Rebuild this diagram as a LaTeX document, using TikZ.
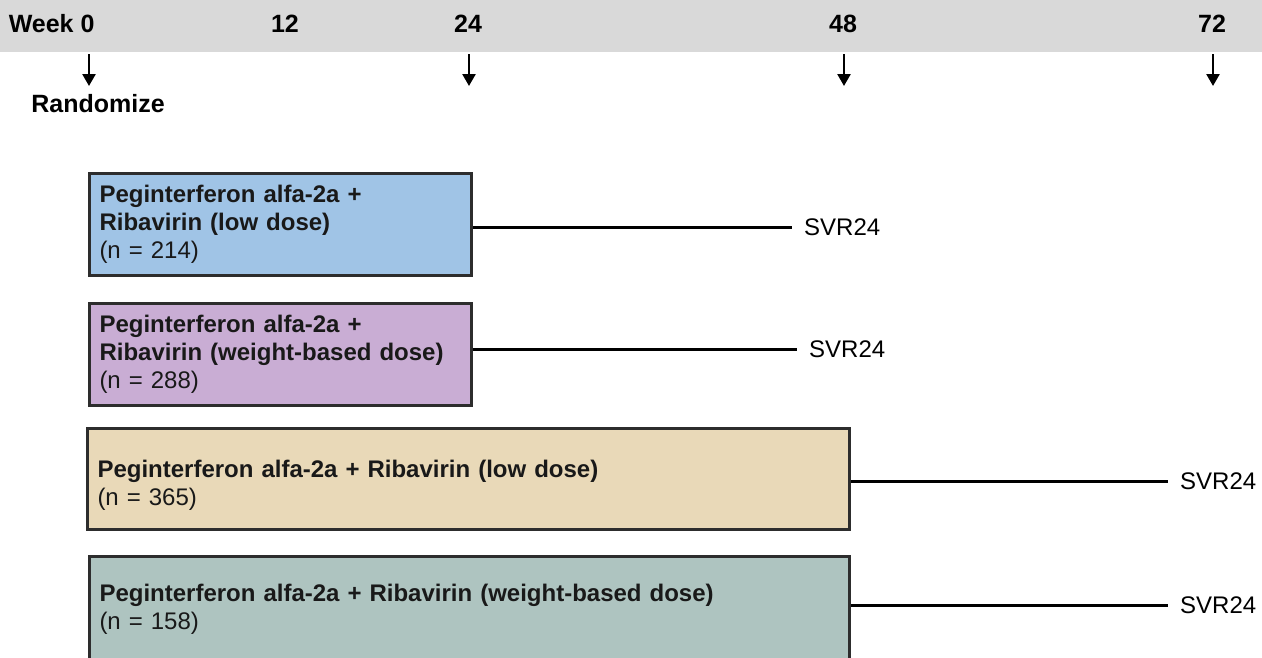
\documentclass[tikz,border=0pt]{standalone}
\usepackage{fontspec}
\setmainfont{Liberation Sans}
\usetikzlibrary{arrows.meta}

\definecolor{bandgray}{RGB}{217,217,217}
\definecolor{boxline}{RGB}{45,45,45}
\definecolor{armblue}{RGB}{160,196,230}
\definecolor{armpurple}{RGB}{201,173,212}
\definecolor{armtan}{RGB}{233,217,184}
\definecolor{armsage}{RGB}{174,196,192}

\tikzset{
  arm/.style={draw=boxline, line width=3pt, anchor=north west,
    text width=#1, align=left, inner xsep=10pt, minimum height=102pt,
    font=\fontsize{24}{28}\selectfont, text=black!90},
  tick/.style={line width=2.5pt, -{Triangle[length=12pt,width=13pt]}},
  follow/.style={line width=3pt},
  svr/.style={anchor=west, inner xsep=12pt, font=\fontsize{24}{28}\selectfont},
  week/.style={font=\bfseries\fontsize{25}{30}\selectfont}
}

\begin{document}
\begin{tikzpicture}[x=1pt,y=-1pt]
  \clip (0,0) rectangle (1262,657);

  % week band
  \fill[bandgray] (0,0) rectangle (1262,52);
  \node[week, anchor=base east] (wk0) at (98,32) {Week 0};
  \node[week, anchor=base] (wk12) at (285,32) {12};
  \node[week, anchor=base] (wk24) at (468,32) {24};
  \node[week, anchor=base] (wk48) at (843,32) {48};
  \node[week, anchor=base] (wk72) at (1212,32) {72};

  \foreach \n/\x in {0/89, 24/469, 48/844, 72/1213} {
    \coordinate (top\n) at (\x,54);
    \coordinate (tip\n) at (\x,86);
    \draw[tick] (top\n) -- (tip\n);
  }
  \node[week, anchor=base] (rand) at (98,112) {Randomize};

  % treatment arms
  \node[arm=362pt, fill=armblue] (arm1) at (88,172)
    {\textbf{Peginterferon alfa-2a +}\\\textbf{Ribavirin (low dose)}\\(n = 214)};
  \node[arm=362pt, fill=armpurple] (arm2) at (88,302)
    {\textbf{Peginterferon alfa-2a +}\\\textbf{Ribavirin (weight-based dose)}\\(n = 288)};
  \node[arm=742pt, fill=armtan, minimum height=101pt] (arm3) at (86,427)
    {\rule{0pt}{30pt}\textbf{Peginterferon alfa-2a + Ribavirin (low dose)}\\(n = 365)};
  \node[arm=740pt, fill=armsage, minimum height=106pt] (arm4) at (88,555)
    {\textbf{Peginterferon alfa-2a + Ribavirin (weight-based dose)}\\(n = 158)};

  % follow-up
  \node[svr] (svr1) at (792,227) {SVR24};
  \node[svr] (svr2) at (797,349) {SVR24};
  \node[svr] (svr3) at (1168,481) {SVR24};
  \node[svr] (svr4) at (1168,605) {SVR24};
  \draw[follow] (arm1.east |- svr1) -- (svr1.west);
  \draw[follow] (arm2.east |- svr2) -- (svr2.west);
  \draw[follow] (arm3.east |- svr3) -- (svr3.west);
  \draw[follow] (arm4.east |- svr4) -- (svr4.west);
\end{tikzpicture}
\end{document}
